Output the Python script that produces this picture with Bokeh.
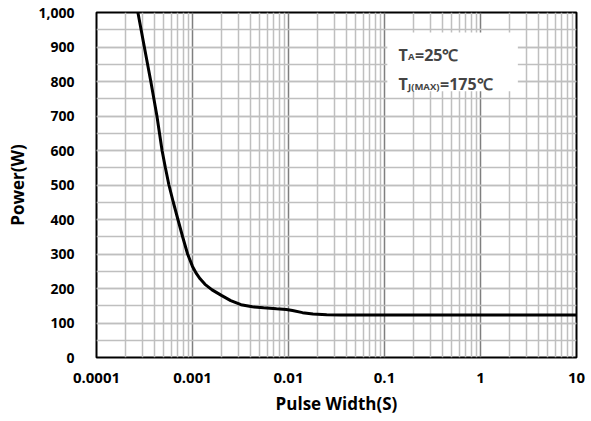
from bokeh.plotting import figure
from bokeh.models import Range1d, FixedTicker, SingleIntervalTicker, NumeralTickFormatter, Label, BoxAnnotation
from bokeh.embed import file_html
from bokeh.resources import INLINE

# data
pulse_width = [2.70e-4, 3.15e-4, 3.68e-4, 4.26e-4, 4.82e-4, 5.22e-4, 5.68e-4, 6.31e-4, 7.05e-4, 7.89e-4,
               8.89e-4, 1.0e-3, 1.1e-3, 1.2e-3, 1.35e-3, 1.6e-3, 2.0e-3, 2.5e-3, 3.2e-3, 4.2e-3, 5.5e-3,
               7.5e-3, 9.5e-3, 1.1e-2, 1.4e-2, 1.8e-2, 2.5e-2, 3.5e-2, 5e-2, 0.1, 1.0, 10.0]
power = [1000, 900, 800, 700, 600, 550, 500, 450, 400, 350,
         300, 264, 243, 228, 212, 196, 180, 165, 153, 147, 144,
         141, 139, 136, 130, 126, 124, 123, 123, 123, 123, 123]

x_ticks = [0.0001, 0.001, 0.01, 0.1, 1, 10]
x_tick_labels = ["0.0001", "0.001", "0.01", "0.1", "1", "10"]
y_max = 1000
annotation_lines = [("T", "A", "=25℃"), ("T", "J(MAX)", "=175℃")]

FONT = "Open Sans"

p = figure(width=590, height=418, x_axis_type="log",
           x_range=Range1d(1e-4, 10), y_range=Range1d(0, y_max),
           output_backend="svg", toolbar_location=None,
           min_border_left=96, min_border_right=14, min_border_top=12, min_border_bottom=61)

minor = [m * d for d in x_ticks[:-1] for m in range(2, 10)]
p.xaxis.ticker = FixedTicker(ticks=x_ticks, minor_ticks=minor)
p.xaxis.major_label_overrides = {t: s for t, s in zip(x_ticks, x_tick_labels)}
p.yaxis.ticker = SingleIntervalTicker(interval=100, num_minor_ticks=2)
p.yaxis.formatter = NumeralTickFormatter(format="0,0")

for ax in (p.xaxis, p.yaxis):
    ax.axis_line_color = None
    ax.major_tick_line_color = None
    ax.minor_tick_line_color = None
    ax.major_label_text_font = FONT
    ax.major_label_text_font_style = "bold"
    ax.major_label_text_color = "#000000"
    ax.axis_label_text_font = FONT
    ax.axis_label_text_font_style = "bold"
    ax.axis_label_text_color = "#000000"

p.xaxis.major_label_text_font_size = "15px"
p.yaxis.major_label_text_font_size = "14px"
p.xaxis.axis_label = "Pulse Width(S)"
p.yaxis.axis_label = "Power(W)"
p.xaxis.axis_label_text_font_size = "17px"
p.yaxis.axis_label_text_font_size = "17px"
p.xaxis.major_label_standoff = 9
p.yaxis.major_label_standoff = 16
p.xaxis.axis_label_standoff = 6
p.yaxis.axis_label_standoff = 6

p.xgrid.grid_line_color = "#7f7f7f"
p.xgrid.grid_line_width = 1.5
p.xgrid.minor_grid_line_color = "#bfbfbf"
p.xgrid.minor_grid_line_width = 1.5
p.ygrid.grid_line_color = "#bfbfbf"
p.ygrid.grid_line_width = 1.5
p.ygrid.minor_grid_line_color = "#bfbfbf"
p.ygrid.minor_grid_line_width = 1.5

p.outline_line_color = "black"
p.outline_line_width = 2
p.outline_line_alpha = 1
p.background_fill_color = "white"
p.border_fill_color = "white"

p.line(pulse_width, power, line_color="black", line_width=3)

# white legend-like box
p.add_layout(BoxAnnotation(left=0.107, right=2.45, top=942, bottom=772,
                           fill_color="white", fill_alpha=1, line_color=None, level="overlay"))

baselines = [(878, 873), (793, 786)]
sub_offsets = [9.5, 9.5]
big2_offsets = [16.5, 41.5]
for (big1, sub, big2), (yb, ys), so, off in zip(annotation_lines, baselines, sub_offsets, big2_offsets):
    p.add_layout(Label(x=0.14, y=yb, text=big1, text_font=FONT, text_font_style="bold",
                       text_font_size="16px", text_baseline="alphabetic", level="overlay"))
    p.add_layout(Label(x=0.14, y=ys, x_offset=so, text=sub, text_font=FONT, text_font_style="bold",
                       text_font_size="9.5px", text_baseline="alphabetic", level="overlay"))
    p.add_layout(Label(x=0.14, y=yb, x_offset=off, text=big2, text_font=FONT, text_font_style="bold",
                       text_font_size="16px", text_baseline="alphabetic", level="overlay"))

open("out.html", "w").write(file_html(p, INLINE))
